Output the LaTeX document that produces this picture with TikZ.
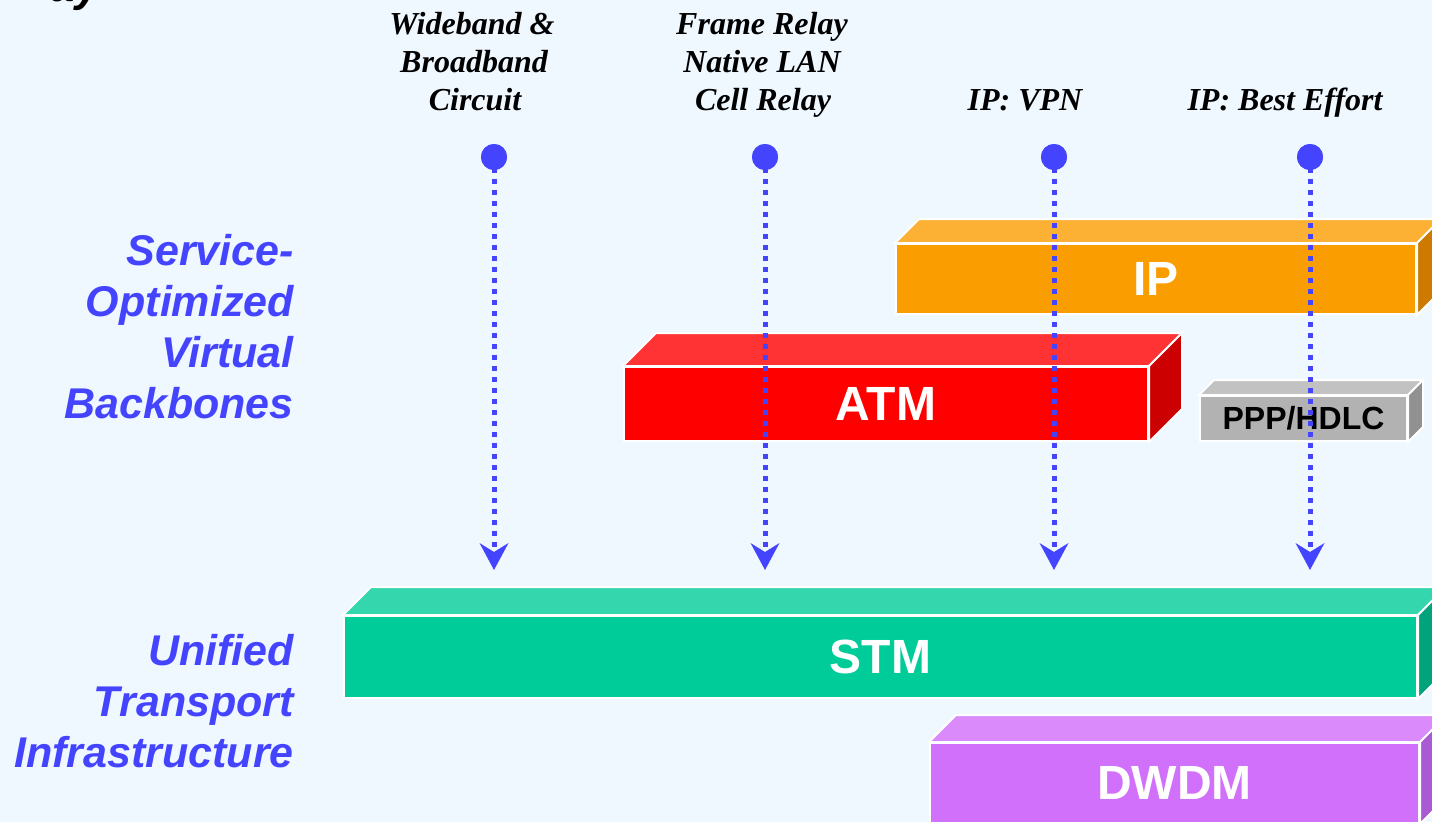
\documentclass[tikz,border=0pt]{standalone}
\usepackage{fontspec}
\setmainfont{Liberation Serif}
\setsansfont{Liberation Sans}
\usetikzlibrary{arrows.meta}

\definecolor{bgcol}{RGB}{239,247,255}
\definecolor{flowblue}{RGB}{68,68,255}
\definecolor{ipfront}{RGB}{249,157,0}
\definecolor{iptop}{RGB}{252,176,52}
\definecolor{ipside}{RGB}{204,122,0}
\definecolor{atmfront}{RGB}{255,0,0}
\definecolor{atmtop}{RGB}{255,51,51}
\definecolor{atmside}{RGB}{204,0,0}
\definecolor{pppfront}{RGB}{178,178,178}
\definecolor{ppptop}{RGB}{194,194,194}
\definecolor{pppside}{RGB}{145,145,145}
\definecolor{stmfront}{RGB}{0,204,153}
\definecolor{stmtop}{RGB}{51,214,173}
\definecolor{stmside}{RGB}{0,163,122}
\definecolor{dwfront}{RGB}{209,112,250}
\definecolor{dwtop}{RGB}{219,138,252}
\definecolor{dwside}{RGB}{170,90,210}

% 3-D slab: name, x, y (front top-left), width, height, depth, colour prefix, label
\newcommand\slab[8]{%
  \node[slabface, fill=#7front, minimum width=#4pt, minimum height=#5pt,
        anchor=north west] (#1) at (#2,#3) {#8};
  \filldraw[slabedge, fill=#7top] (#1.north west) -- ([shift={(#6,-#6)}]#1.north west)
     -- ([shift={(#6,-#6)}]#1.north east) -- (#1.north east) -- cycle;
  \filldraw[slabedge, fill=#7side] (#1.north east) -- ([shift={(#6,-#6)}]#1.north east)
     -- ([shift={(#6,-#6)}]#1.south east) -- (#1.south east) -- cycle;
}

\begin{document}
\begin{tikzpicture}[x=1pt, y=-1pt,
  slabface/.style={draw=white, line width=2pt, inner sep=0pt, text=white,
    font=\sffamily\bfseries\fontsize{48}{48}\selectfont},
  slabedge/.style={draw=white, line width=2pt, line join=miter},
  sidelabel/.style={inner sep=0pt, anchor=base east, text=flowblue,
    font=\sffamily\bfseries\itshape\fontsize{43}{51}\selectfont},
  collabel/.style={inner sep=0pt, anchor=base, text=black,
    font=\rmfamily\bfseries\itshape\fontsize{32}{38}\selectfont},
  flow/.style={draw=flowblue, line width=5pt, dash pattern=on 5pt off 6pt,
    -{Stealth[length=27pt, width=29pt, inset=9pt, line width=0pt]}},
  flowdot/.style={circle, fill=flowblue, minimum size=26pt, inner sep=0pt}]

\useasboundingbox (0,0) rectangle (1432,822);
\clip (0,0) rectangle (1432,822);
\fill[bgcol] (0,0) rectangle (1432,822);

% title fragment at the top edge
\node[inner sep=0pt, anchor=base east, text=black,
      font=\sffamily\bfseries\itshape\fontsize{44}{44}\selectfont] (title) at (100,1) {ay};

% layer names
\node[sidelabel] (sv1) at (294,265) {Service-};
\node[sidelabel] (sv2) at (294,316) {Optimized};
\node[sidelabel] (sv3) at (294,367) {Virtual};
\node[sidelabel] (sv4) at (294,418) {Backbones};
\node[sidelabel] (ut1) at (294,665) {Unified};
\node[sidelabel] (ut2) at (294,716) {Transport};
\node[sidelabel] (ut3) at (294,767) {Infrastructure};

% service names
\node[collabel] (wb1) at (472,34) {Wideband \&};
\node[collabel] (wb2) at (474,72) {Broadband};
\node[collabel] (wb3) at (475,110) {Circuit};
\node[collabel] (fr1) at (762,34) {Frame Relay};
\node[collabel] (fr2) at (762,72) {Native LAN};
\node[collabel] (fr3) at (763,110) {Cell Relay};
\node[collabel] (vpn) at (1025,110) {IP: VPN};
\node[collabel] (bef) at (1285,110) {IP: Best Effort};

% transport layers
\slab{stm}{343}{615}{1073}{82}{28}{stm}{STM}
\slab{dwdm}{929}{742}{489}{80}{27}{dw}{DWDM}

% virtual backbones
\slab{ip}{895}{243}{520}{70}{24}{ip}{IP}
\slab{atm}{623}{366}{524}{74}{33}{atm}{ATM}
\slab{ppp}{1199}{395}{207}{45}{15}{ppp}{\color{black}\fontsize{32}{32}\selectfont PPP/HDLC}

% service flows down to the transport
\node[flowdot] (s1) at (494,157) {};
\node[flowdot] (s2) at (765,157) {};
\node[flowdot] (s3) at (1054,157) {};
\node[flowdot] (s4) at (1310,157) {};
\coordinate (e1) at (494,570);
\coordinate (e2) at (765,570);
\coordinate (e3) at (1054,570);
\coordinate (e4) at (1310,570);
\foreach \i in {1,2,3,4} {
  \draw[flow] (s\i.center) -- (e\i);
  \node[flowdot] at (s\i) {};
}
\end{tikzpicture}
\end{document}
